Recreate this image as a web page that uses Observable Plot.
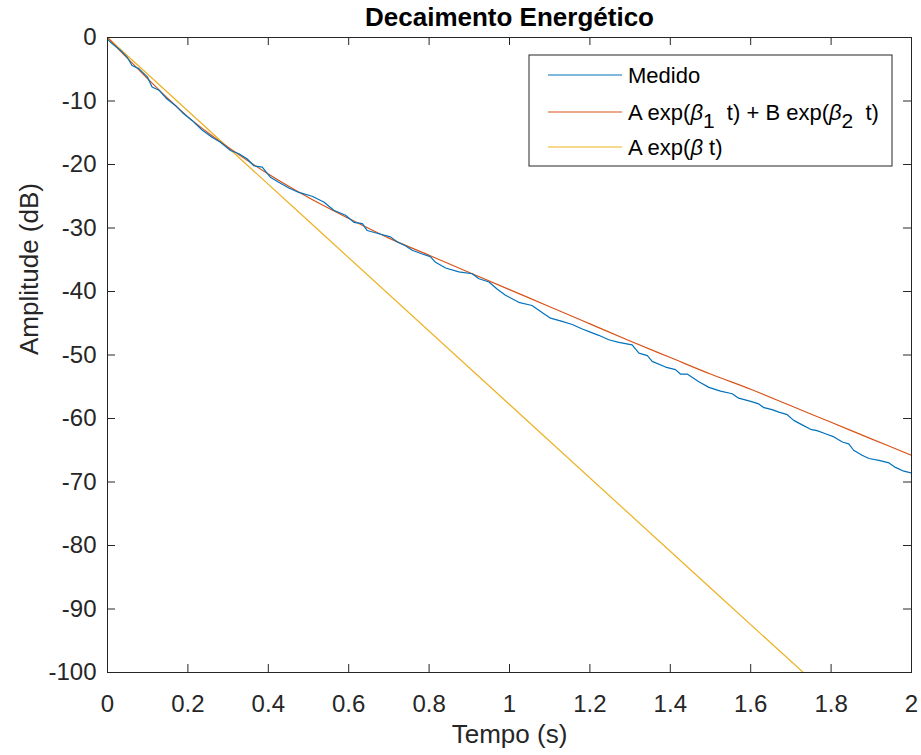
<!DOCTYPE html>
<html><head><meta charset="utf-8">
<script src="https://cdn.jsdelivr.net/npm/d3@7"></script>
<script src="https://cdn.jsdelivr.net/npm/@observablehq/plot@0.6"></script>
<style>html,body{margin:0;padding:0;background:#fff}</style>
</head><body><div id="chart"></div>
<script>
const title = "Decaimento Energético";
const xLabel = "Tempo (s)";
const yLabel = "Amplitude (dB)";
const seriesNames = ["Medido", "A exp(β1 t) + B exp(β2 t)", "A exp(β t)"];
const seriesColors = ["#0072BD", "#D95319", "#EDB120"];
const xTicks = [0, 0.2, 0.4, 0.6, 0.8, 1, 1.2, 1.4, 1.6, 1.8, 2];
const yTicks = [-100, -90, -80, -70, -60, -50, -40, -30, -20, -10, 0];

// Measured decay (blue)
const medidoT = [0.000,0.012,0.032,0.049,0.061,0.078,0.099,0.111,0.128,0.148,0.169,0.186,0.211,0.236,0.260,0.281,0.306,0.327,0.347,0.364,0.385,0.405,0.426,0.451,0.476,0.509,0.538,0.563,0.592,0.613,0.634,0.646,0.675,0.704,0.721,0.741,0.758,0.783,0.803,0.816,0.841,0.874,0.907,0.924,0.949,0.969,0.990,1.023,1.056,1.081,1.102,1.131,1.156,1.181,1.201,1.222,1.247,1.272,1.305,1.322,1.343,1.355,1.388,1.413,1.425,1.442,1.471,1.496,1.525,1.554,1.570,1.600,1.620,1.633,1.653,1.670,1.691,1.707,1.728,1.749,1.765,1.786,1.807,1.828,1.844,1.856,1.877,1.894,1.919,1.944,1.960,1.981,2.000];
const medidoDb = [-0.3,-1.0,-2.0,-3.1,-4.4,-4.9,-6.2,-7.8,-8.3,-9.7,-10.7,-11.8,-13.1,-14.6,-15.7,-16.5,-17.8,-18.3,-19.1,-20.2,-20.4,-22.0,-22.8,-23.7,-24.4,-25.0,-25.9,-27.2,-28.0,-29.1,-29.3,-30.4,-30.9,-31.4,-32.2,-32.8,-33.5,-34.1,-34.5,-35.4,-36.3,-36.9,-37.2,-38.0,-38.5,-39.6,-40.6,-41.7,-42.2,-43.3,-44.2,-44.7,-45.2,-45.9,-46.4,-46.9,-47.6,-48.0,-48.4,-49.7,-50.1,-51.0,-51.9,-52.3,-53.0,-53.0,-54.2,-55.1,-55.7,-56.1,-56.8,-57.3,-57.7,-58.3,-58.6,-59.0,-59.4,-60.3,-61.0,-61.7,-61.9,-62.4,-62.9,-63.7,-64.0,-65.0,-65.8,-66.3,-66.6,-67.0,-67.7,-68.3,-68.6];

// Double exponential fit (orange)
const duplaT = [0, 0.05, 0.1, 0.15, 0.2, 0.25, 0.3, 0.4, 0.5, 0.6, 0.7, 0.8, 0.9, 1.0, 1.1, 1.2, 1.3, 1.4, 1.5, 1.6, 1.7, 1.8, 1.9, 2.0];
const duplaDb = [0, -3.3, -6.5, -9.6, -12.5, -15.0, -17.3, -21.5, -25.2, -28.5, -31.6, -34.3, -37.0, -39.7, -42.4, -45.1, -47.8, -50.4, -53.0, -55.4, -58.0, -60.6, -63.2, -65.8];

// Single exponential fit (yellow)
const simplesT = [0, 0.5, 1.0, 1.5, 1.731];
const simplesDb = [0, -28.9, -57.8, -86.7, -100];

function toRows(name, ts, vs) { return ts.map((t, i) => ({series: name, t, db: vs[i]})); }
const rowsMedido = toRows(seriesNames[0], medidoT, medidoDb);
const rowsDupla = toRows(seriesNames[1], duplaT, duplaDb);
const rowsSimples = toRows(seriesNames[2], simplesT, simplesDb);

const W = 921, H = 755, mL = 107, mR = 10, mT = 37, mB = 83;
const plotW = W - mL - mR, plotH = H - mT - mB, tick = 8;
const axisColor = "#262626";
const font = "'Liberation Sans', Arial, Helvetica, sans-serif";

const plot = Plot.plot({
  width: W, height: H,
  marginLeft: mL, marginRight: mR, marginTop: mT, marginBottom: mB,
  style: {fontFamily: font, fontSize: "24px", color: axisColor, background: "#fff", overflow: "visible"},
  x: {domain: [0, 2], label: null},
  y: {domain: [-100, 0], label: null},
  color: {domain: seriesNames, range: seriesColors},
  marks: [
    Plot.line(rowsSimples, {x: "t", y: "db", stroke: "series", strokeWidth: 1.2, clip: true}),
    Plot.line(rowsDupla, {x: "t", y: "db", stroke: "series", strokeWidth: 1.2, curve: "catmull-rom", clip: true}),
    Plot.line(rowsMedido, {x: "t", y: "db", stroke: "series", strokeWidth: 1.2, clip: true}),
    Plot.frame({stroke: axisColor, strokeWidth: 1}),
    Plot.tickX(xTicks, {x: d => d, insetTop: plotH - tick, stroke: axisColor}),
    Plot.tickX(xTicks, {x: d => d, insetBottom: plotH - tick, stroke: axisColor}),
    Plot.tickY(yTicks, {y: d => d, insetRight: plotW - tick, stroke: axisColor}),
    Plot.tickY(yTicks, {y: d => d, insetLeft: plotW - tick, stroke: axisColor}),
    Plot.axisX({ticks: xTicks, tickSize: 0, tickPadding: 22, tickFormat: d => String(d), label: null, fill: axisColor}),
    Plot.axisY({ticks: yTicks, tickSize: 0, tickPadding: 11, tickFormat: d => String(d), label: null, fill: axisColor}),
    Plot.text([xLabel], {frameAnchor: "bottom", lineAnchor: "middle", dy: 62, fontSize: 26, fill: axisColor}),
    Plot.text([yLabel], {frameAnchor: "left", lineAnchor: "middle", dx: -78, rotate: -90, fontSize: 26, fill: axisColor}),
    Plot.text([title], {frameAnchor: "top", lineAnchor: "middle", dy: -20, fontSize: 26, fontWeight: "bold", fill: "#000"})
  ]
});

// Legend (inside the plot, top-right), coloured from the plot's colour scale
const color = plot.scale("color");
const svg = d3.select(plot);
const lg = svg.append("g").attr("font-family", font).attr("font-size", 22).attr("fill", "#000").attr("text-anchor", "start");
lg.append("rect").attr("x", 529).attr("y", 55).attr("width", 363).attr("height", 111)
  .attr("fill", "#fff").attr("stroke", axisColor).attr("stroke-width", 1);
const rowY = [75, 112, 147];
const labelParts = [
  [{t: "Medido"}],
  [{t: "A exp("}, {t: "β", i: true}, {t: "1", sub: true}, {t: "  t) + B exp(", up: true}, {t: "β", i: true}, {t: "2", sub: true}, {t: "  t)", up: true}],
  [{t: "A exp("}, {t: "β", i: true}, {t: " t)"}]
];
seriesNames.forEach((name, k) => {
  lg.append("line").attr("x1", 548).attr("x2", 622).attr("y1", rowY[k]).attr("y2", rowY[k])
    .attr("stroke", color.apply(name)).attr("stroke-width", 1.2);
  const tx = lg.append("text").attr("x", 628).attr("y", rowY[k]).attr("dy", "0.35em")
    .attr("text-anchor", "start").style("white-space", "pre");
  labelParts[k].forEach(p => {
    const ts = tx.append("tspan").text(p.t);
    if (p.i) ts.attr("font-style", "italic");
    if (p.sub) ts.attr("dy", 8).attr("font-size", 21);
    if (p.up) ts.attr("dy", -8);
  });
});

document.getElementById("chart").appendChild(plot);
</script>
</body></html>
